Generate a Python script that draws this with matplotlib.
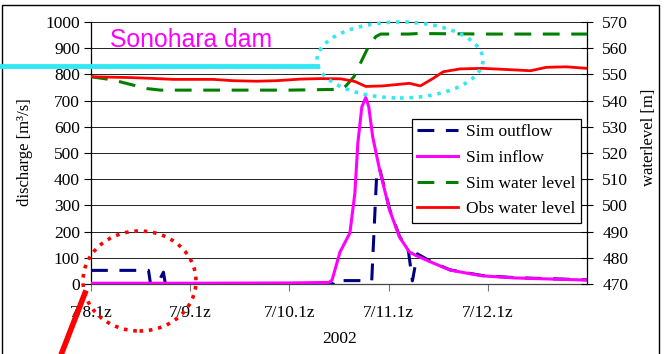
import matplotlib
matplotlib.use("Agg")
import matplotlib.pyplot as plt
from matplotlib.patches import Ellipse, Rectangle
from matplotlib.lines import Line2D

# ---------------- data (x in days from 7/8.1z) ----------------
tick_days = [0, 1, 2, 3, 4]
tick_labels = ["7/8.1z", "7/9.1z", "7/10.1z", "7/11.1z", "7/12.1z"]

inflow_x = [0.0, 1.0, 2.0, 2.40, 2.43, 2.51, 2.61, 2.66, 2.69, 2.73, 2.77, 2.80,
            2.84, 2.91, 3.01, 3.11, 3.21, 3.28, 3.45, 3.62, 3.78, 3.95, 4.28, 4.63, 5.0]
inflow_y = [3, 3, 4, 6, 15, 122, 195, 347, 538, 676, 712, 676,
            561, 435, 282, 179, 122, 108, 80, 53, 42, 31, 23, 19, 15]

outflow_x = [0.0, 0.58, 0.60, 0.67, 0.73, 0.75, 2.44, 2.45, 2.83, 2.88, 2.91, 3.01,
             3.11, 3.20, 3.24, 3.29, 3.45, 3.62, 3.78, 3.95, 4.28, 4.63, 5.0]
outflow_y = [52, 52, 0, 0, 45, 0, 0, 13, 13, 420, 440, 285,
             182, 125, 12, 115, 81, 54, 43, 32, 24, 20, 16]

simwl_x = [0.0, 0.22, 0.56, 0.70, 2.0, 2.52, 2.57, 2.65, 2.78, 2.87, 2.92, 3.2, 3.3, 4.0, 5.0]
simwl_y = [549.1, 547.9, 544.6, 544.0, 544.0, 544.3, 545.6, 549.1, 559.3, 564.4, 565.4,
           565.4, 565.6, 565.4, 565.4]

obswl_x = [0.0, 0.39, 0.60, 0.83, 1.23, 1.43, 1.67, 1.87, 2.11, 2.31, 2.52, 2.66,
           2.77, 2.94, 3.21, 3.32, 3.45, 3.55, 3.72, 3.95, 4.12, 4.43, 4.59, 4.79, 5.0]
obswl_y = [549.1, 548.8, 548.5, 548.1, 548.1, 547.6, 547.4, 547.6, 548.2, 548.4, 548.3, 547.3,
           545.4, 545.6, 546.6, 545.6, 548.5, 551.0, 552.1, 552.3, 552.0, 551.4, 552.7, 552.9, 552.3]

# ---------------- figure ----------------
W, H = 667, 354
fig = plt.figure(figsize=(W / 100, H / 100), dpi=100)
serif = ["Liberation Serif", "DejaVu Serif"]
plt.rcParams["font.family"] = serif
FS = 12.5

L, R, T, B = 91, 587, 22, 284
ax = fig.add_axes([L / W, 1 - B / H, (R - L) / W, (B - T) / H])
ax2 = ax.twinx()

navy, mag, green, red = "#000080", "#FF00FF", "#008000", "#FF0000"
dash = (0, (5.5, 3.8))

l_out, = ax.plot(outflow_x, outflow_y, color=navy, lw=2.2, linestyle=dash, zorder=3)
l_in, = ax.plot(inflow_x, inflow_y, color=mag, lw=2.2, zorder=4)
l_sim, = ax2.plot(simwl_x, simwl_y, color=green, lw=2.2, linestyle=dash, zorder=3)
l_obs, = ax2.plot(obswl_x, obswl_y, color=red, lw=2.0, zorder=4)

ax.set_xlim(0, 5)
ax.set_ylim(0, 1000)
ax2.set_ylim(470, 570)
ax.set_yticks(range(0, 1001, 100))
ax2.set_yticks(range(470, 571, 10))
ax.set_xticks(tick_days)
ax.set_xticklabels(tick_labels)
ax.grid(axis="y", color="#222222", lw=0.7)
ax.set_axisbelow(True)

for a in (ax, ax2):
    a.spines["top"].set_visible(False)
    a.tick_params(labelsize=FS, length=5, width=0.8, colors="black")
ax.spines["left"].set_linewidth(0.9)
ax.spines["bottom"].set_linewidth(0.9)
ax.spines["bottom"].set_color("#444444")
ax2.spines["right"].set_linewidth(0.9)
ax.spines["right"].set_visible(False)
ax2.spines["left"].set_visible(False)
ax2.spines["bottom"].set_visible(False)
ax.tick_params(axis="x", pad=10, color="#777777")
ax.tick_params(axis="y", pad=3)
ax2.tick_params(axis="y", direction="inout", length=8, pad=7)

fig.text(25 / W, 1 - 152 / H, "discharge [m³/s]", rotation=90, ha="center", va="center",
         fontsize=FS - 0.5)
fig.text(649 / W, 1 - 137 / H, "waterlevel [m]", rotation=90, ha="center", va="center",
         fontsize=FS - 0.5)
fig.text(340 / W, 1 - 339 / H, "2002", ha="center", va="center", fontsize=FS)
fig.text(110 / W, 1 - 40 / H, "Sonohara dam", ha="left", va="center", fontsize=17.8,
         color=mag, family=["Liberation Sans", "DejaVu Sans"])

leg = ax2.legend([l_out, l_in, l_sim, l_obs],
                 ["Sim outflow", "Sim inflow", "Sim water level", "Obs water level"],
                 loc="upper right", bbox_to_anchor=((581 - L) / (R - L), (B - 119) / (B - T)),
                 fontsize=FS, frameon=True, fancybox=False, framealpha=1,
                 edgecolor="black", handlelength=2.4, labelspacing=0.55,
                 borderpad=0.3, handletextpad=0.45, borderaxespad=0, handleheight=0.7)
leg.get_frame().set_linewidth(0.9)
leg.set_zorder(10)

# ---------------- overlays (figure coordinates) ----------------
fig.add_artist(Rectangle((2 / W, -0.05), (659 - 2) / W, 1.05 - 5 / H, fill=False,
                         edgecolor="black", lw=1.0, transform=fig.transFigure))
cyan = "#33E8F5"
fig.add_artist(Line2D([0, 317 / W], [1 - 66 / H, 1 - 66 / H], color=cyan, lw=3.5,
                      transform=fig.transFigure, zorder=20))
fig.add_artist(Ellipse((400 / W, 1 - 60 / H), 166 / W, 76 / H, fill=False,
                       edgecolor=cyan, lw=2.6, linestyle=(0, (1, 1.6)),
                       transform=fig.transFigure, zorder=20))
fig.add_artist(Ellipse((139.5 / W, 1 - 281 / H), 113 / W, 100 / H, fill=False,
                       edgecolor=red, lw=2.6, linestyle=(0, (1, 1.6)),
                       transform=fig.transFigure, zorder=20))
fig.add_artist(Line2D([60 / W, 85 / W], [-0.01, 1 - 293 / H], color=red, lw=4,
                      transform=fig.transFigure, zorder=20))

fig.savefig("out.png", dpi=100)
